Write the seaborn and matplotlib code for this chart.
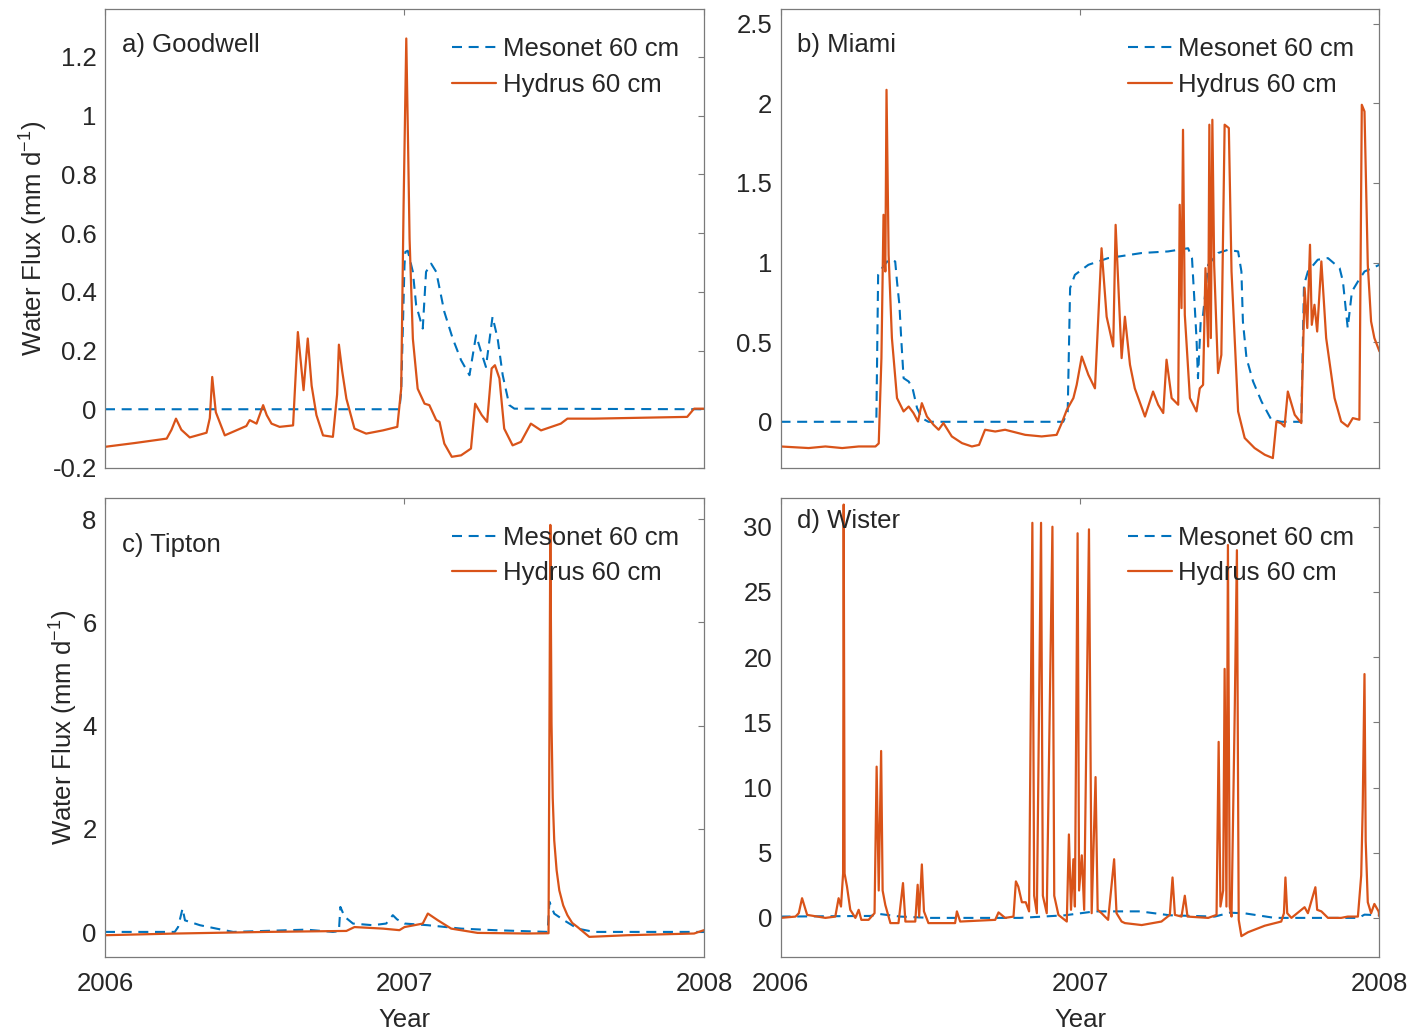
import numpy as np
import pandas as pd
import matplotlib
matplotlib.use("Agg")
import matplotlib.pyplot as plt
import seaborn as sns

# ---------------- data ----------------
series_labels = ["Mesonet 60 cm", "Hydrus 60 cm"]
panel_titles = ["a) Goodwell", "b) Miami", "c) Tipton", "d) Wister"]
x_tick_values = [2006, 2007, 2008]
x_tick_labels = ["2006", "2007", "2008"]

goodwell_mesonet_year = [2006.000, 2006.983, 2006.989, 2007.000, 2007.003, 2007.011, 2007.028, 2007.039,
                         2007.061, 2007.072, 2007.089, 2007.106, 2007.133, 2007.161, 2007.189, 2007.217,
                         2007.239, 2007.256, 2007.272, 2007.294, 2007.311, 2007.328, 2007.350, 2007.367,
                         2008.000]
goodwell_mesonet_flux = [0.0, 0.0, 0.06, 0.49, 0.536, 0.54, 0.468, 0.354,
                         0.275, 0.468, 0.496, 0.468, 0.332, 0.241, 0.167, 0.116,
                         0.252, 0.195, 0.144, 0.315, 0.241, 0.116, 0.014, 0.002,
                         0.0]

goodwell_hydrus_year = [2006.000, 2006.100, 2006.206, 2006.222, 2006.237, 2006.255, 2006.283, 2006.339,
                        2006.350, 2006.358, 2006.370, 2006.400, 2006.472, 2006.483, 2006.506, 2006.528,
                        2006.540, 2006.556, 2006.583, 2006.628, 2006.644, 2006.663, 2006.677, 2006.690,
                        2006.706, 2006.728, 2006.761, 2006.775, 2006.781, 2006.792, 2006.806, 2006.833,
                        2006.872, 2006.928, 2006.976, 2006.989, 2006.997, 2007.006, 2007.012, 2007.017,
                        2007.028, 2007.044, 2007.067, 2007.083, 2007.106, 2007.117, 2007.133, 2007.158,
                        2007.189, 2007.222, 2007.236, 2007.258, 2007.276, 2007.291, 2007.302, 2007.317,
                        2007.333, 2007.361, 2007.389, 2007.422, 2007.456, 2007.522, 2007.544, 2007.633,
                        2007.944, 2007.967, 2008.000]
goodwell_hydrus_flux = [-0.128, -0.115, -0.100, -0.070, -0.032, -0.070, -0.096, -0.080,
                        -0.030, 0.110, -0.010, -0.089, -0.057, -0.037, -0.049, 0.014,
                        -0.020, -0.049, -0.060, -0.055, 0.263, 0.065, 0.241, 0.080,
                        -0.020, -0.089, -0.094, 0.050, 0.220, 0.130, 0.036, -0.066,
                        -0.083, -0.072, -0.060, 0.070, 0.695, 1.263, 0.900, 0.580,
                        0.240, 0.070, 0.019, 0.014, -0.037, -0.043, -0.117, -0.162,
                        -0.157, -0.134, 0.019, -0.020, -0.043, 0.139, 0.150, 0.105,
                        -0.066, -0.123, -0.111, -0.049, -0.072, -0.049, -0.032, -0.032,
                        -0.026, 0.002, 0.002]

miami_mesonet_year = [2006.000, 2006.320, 2006.326, 2006.339, 2006.361, 2006.383, 2006.389, 2006.397,
                      2006.403, 2006.411, 2006.428, 2006.441, 2006.456, 2006.472, 2006.494, 2006.944,
                      2006.959, 2006.967, 2006.983, 2007.028, 2007.094, 2007.206, 2007.294, 2007.361,
                      2007.374, 2007.381, 2007.389, 2007.394, 2007.403, 2007.411, 2007.428, 2007.461,
                      2007.494, 2007.528, 2007.539, 2007.544, 2007.556, 2007.578, 2007.606, 2007.639,
                      2007.672, 2007.739, 2007.748, 2007.761, 2007.794, 2007.828, 2007.867, 2007.878,
                      2007.886, 2007.894, 2007.908, 2007.928, 2007.950, 2008.000]
miami_mesonet_flux = [0.0, 0.0, 0.923, 0.965, 1.018, 1.007, 0.881, 0.735,
                      0.526, 0.274, 0.253, 0.21, 0.086, 0.023, 0.0, 0.0,
                      0.065, 0.84, 0.923, 0.986, 1.028, 1.06, 1.07, 1.09,
                      1.028, 0.798, 0.526, 0.274, 0.63, 0.672, 0.986, 1.06,
                      1.08, 1.07, 0.944, 0.63, 0.40, 0.253, 0.128, 0.013,
                      0.0, 0.0, 0.86, 0.944, 1.018, 1.028, 0.965, 0.881,
                      0.735, 0.589, 0.818, 0.881, 0.944, 0.986]

miami_hydrus_year = [2006.000, 2006.094, 2006.150, 2006.206, 2006.261, 2006.317, 2006.328, 2006.337,
                     2006.344, 2006.350, 2006.354, 2006.361, 2006.372, 2006.389, 2006.411, 2006.428,
                     2006.444, 2006.459, 2006.472, 2006.489, 2006.511, 2006.528, 2006.544, 2006.572,
                     2006.606, 2006.639, 2006.663, 2006.683, 2006.717, 2006.750, 2006.817, 2006.872,
                     2006.922, 2006.939, 2006.956, 2006.978, 2006.989, 2007.006, 2007.028, 2007.050,
                     2007.072, 2007.089, 2007.111, 2007.119, 2007.139, 2007.150, 2007.167, 2007.183,
                     2007.217, 2007.244, 2007.261, 2007.278, 2007.289, 2007.306, 2007.328, 2007.333,
                     2007.339, 2007.344, 2007.350, 2007.367, 2007.389, 2007.400, 2007.411, 2007.419,
                     2007.428, 2007.432, 2007.437, 2007.442, 2007.448, 2007.461, 2007.472, 2007.483,
                     2007.497, 2007.506, 2007.528, 2007.550, 2007.583, 2007.617, 2007.644, 2007.656,
                     2007.672, 2007.683, 2007.694, 2007.717, 2007.739, 2007.750, 2007.759, 2007.768,
                     2007.774, 2007.783, 2007.792, 2007.806, 2007.822, 2007.850, 2007.872, 2007.894,
                     2007.911, 2007.933, 2007.941, 2007.950, 2007.961, 2007.972, 2007.983, 2008.000]
miami_hydrus_flux = [-0.155, -0.165, -0.155, -0.165, -0.155, -0.155, -0.136, 0.40,
                     1.30, 0.944, 2.085, 1.049, 0.526, 0.149, 0.065, 0.096,
                     0.055, 0.002, 0.117, 0.033, -0.019, -0.050, -0.008, -0.092,
                     -0.134, -0.155, -0.145, -0.050, -0.061, -0.050, -0.082, -0.092,
                     -0.082, -0.008, 0.075, 0.149, 0.232, 0.41, 0.295, 0.21,
                     1.09, 0.66, 0.473, 1.237, 0.40, 0.66, 0.358, 0.21,
                     0.033, 0.19, 0.107, 0.055, 0.39, 0.149, 0.107, 1.363,
                     0.714, 1.834, 0.672, 0.149, 0.065, 0.21, 0.232, 0.965,
                     0.473, 1.866, 0.526, 1.897, 0.986, 0.306, 0.42, 1.866,
                     1.845, 0.944, 0.065, -0.102, -0.165, -0.207, -0.228, 0.002,
                     -0.010, -0.030, 0.19, 0.044, -0.008, 0.84, 0.589, 1.112,
                     0.609, 0.735, 0.567, 1.007, 0.526, 0.149, 0.002, -0.030,
                     0.023, 0.013, 1.991, 1.949, 0.986, 0.63, 0.526, 0.442]

tipton_mesonet_year = [2006.000, 2006.233, 2006.244, 2006.259, 2006.267, 2006.317, 2006.372, 2006.428,
                       2006.672, 2006.761, 2006.781, 2006.786, 2006.800, 2006.828, 2006.894, 2006.939,
                       2006.961, 2006.975, 2007.000, 2007.078, 2007.189, 2007.300, 2007.478, 2007.484,
                       2007.500, 2007.533, 2007.578, 2007.633, 2008.000]
tipton_mesonet_flux = [0.006, 0.006, 0.10, 0.46, 0.23, 0.136, 0.07, 0.006,
                       0.05, 0.006, 0.02, 0.49, 0.30, 0.168, 0.136, 0.168,
                       0.33, 0.25, 0.168, 0.136, 0.07, 0.04, 0.006, 0.59,
                       0.36, 0.23, 0.07, 0.006, 0.006]

tipton_hydrus_year = [2006.000, 2006.239, 2006.539, 2006.806, 2006.833, 2006.928, 2006.983, 2007.000,
                      2007.033, 2007.061, 2007.078, 2007.111, 2007.156, 2007.244, 2007.411, 2007.481,
                      2007.487, 2007.491, 2007.495, 2007.500, 2007.508, 2007.517, 2007.530, 2007.544,
                      2007.560, 2007.578, 2007.617, 2007.744, 2007.967, 2008.000]
tipton_hydrus_flux = [-0.058, -0.025, 0.006, 0.025, 0.10, 0.07, 0.04, 0.10,
                      0.136, 0.168, 0.362, 0.233, 0.07, -0.013, -0.025, -0.02,
                      7.89, 4.04, 2.6, 1.78, 1.2, 0.81, 0.52, 0.33,
                      0.18, 0.10, -0.09, -0.058, -0.025, 0.04]

wister_mesonet_year = [2006.000, 2006.300, 2006.330, 2006.400, 2006.500, 2006.800, 2006.950, 2007.050,
                       2007.200, 2007.300, 2007.450, 2007.500, 2007.550, 2007.650, 2007.930, 2007.950,
                       2008.000]
wister_mesonet_flux = [0.1, 0.15, 0.3, 0.1, 0.0, 0.0, 0.2, 0.5,
                       0.5, 0.2, 0.1, 0.4, 0.35, 0.0, 0.0, 0.25,
                       0.2]

wister_hydrus_year = [2006.000, 2006.050, 2006.061, 2006.072, 2006.089, 2006.150, 2006.183, 2006.194,
                      2006.202, 2006.209, 2006.211, 2006.214, 2006.222, 2006.233, 2006.250, 2006.261,
                      2006.270, 2006.294, 2006.314, 2006.321, 2006.328, 2006.336, 2006.341, 2006.350,
                      2006.367, 2006.394, 2006.409, 2006.417, 2006.450, 2006.458, 2006.463, 2006.472,
                      2006.479, 2006.494, 2006.583, 2006.589, 2006.600, 2006.717, 2006.728, 2006.750,
                      2006.778, 2006.786, 2006.794, 2006.806, 2006.819, 2006.830, 2006.841, 2006.847,
                      2006.856, 2006.870, 2006.876, 2006.889, 2006.908, 2006.914, 2006.928, 2006.956,
                      2006.963, 2006.970, 2006.978, 2006.983, 2006.992, 2006.997, 2007.006, 2007.014,
                      2007.030, 2007.039, 2007.052, 2007.059, 2007.072, 2007.094, 2007.114, 2007.122,
                      2007.139, 2007.150, 2007.206, 2007.272, 2007.300, 2007.309, 2007.317, 2007.339,
                      2007.350, 2007.359, 2007.428, 2007.456, 2007.463, 2007.469, 2007.478, 2007.483,
                      2007.489, 2007.494, 2007.500, 2007.506, 2007.517, 2007.524, 2007.530, 2007.539,
                      2007.561, 2007.617, 2007.672, 2007.681, 2007.686, 2007.692, 2007.706, 2007.750,
                      2007.761, 2007.786, 2007.792, 2007.806, 2007.828, 2007.872, 2007.894, 2007.928,
                      2007.939, 2007.944, 2007.950, 2007.954, 2007.961, 2007.972, 2007.983, 2007.997,
                      2008.000]
wister_hydrus_flux = [0.0, 0.1, 0.36, 1.51, 0.23, 0.0, 0.1, 1.51,
                      0.87, 3.4, 31.7, 3.4, 2.4, 0.62, 0.0, 0.62,
                      -0.15, -0.15, 0.36, 11.6, 2.1, 12.8, 2.1, 0.99,
                      -0.4, -0.4, 2.67, -0.28, -0.28, 2.54, 0.1, 4.1,
                      0.5, -0.4, -0.4, 0.5, -0.28, -0.15, 0.42, 0.0,
                      0.1, 2.8, 2.4, 1.2, 1.2, 0.5, 30.3, 1.7,
                      0.36, 30.3, 1.7, 0.36, 30.0, 1.7, 0.23, -0.28,
                      6.4, 0.62, 4.5, 0.87, 29.5, 2.1, 4.8, 0.62,
                      29.8, 0.36, 10.8, 0.62, 0.36, -0.15, 4.5, 0.36,
                      -0.28, -0.4, -0.55, -0.28, 0.23, 3.1, 0.23, 0.1,
                      1.7, 0.1, 0.0, 0.23, 13.5, 0.87, 2.1, 19.1,
                      0.87, 28.6, 0.87, 0.1, 16.3, 28.2, -0.15, -1.4,
                      -1.1, -0.6, -0.28, 0.36, 3.1, 0.36, 0.0, 0.82,
                      0.36, 2.35, 0.62, 0.5, 0.0, 0.0, 0.1, 0.1,
                      3.25, 8.4, 18.7, 5.9, 1.2, 0.36, 1.07, 0.5,
                      0.1]

# y tick values per panel
goodwell_yticks = [-0.2, 0, 0.2, 0.4, 0.6, 0.8, 1, 1.2]
miami_yticks = [0, 0.5, 1, 1.5, 2, 2.5]
tipton_yticks = [0, 2, 4, 6, 8]
wister_yticks = [0, 5, 10, 15, 20, 25, 30]

# ---------------- style ----------------
sns.set_style("white")
plt.rcParams["font.family"] = ["Liberation Sans", "DejaVu Sans"]
plt.rcParams["mathtext.default"] = "regular"
TXT = "#262626"
SPINE = "#7a7a7a"
BLUE = "#0072BD"
ORANGE = "#D95319"
FS = 18.5

fig = plt.figure(figsize=(14.16, 10.36), dpi=100)
fig.patch.set_facecolor("white")

W = 0.423
positions = [
    [105 / 1416, 0.5483, W, 0.4426],
    [780.5 / 1416, 0.5483, W, 0.4426],
    [105 / 1416, 0.07625, W, 0.443],
    [780.5 / 1416, 0.07625, W, 0.443],
]
panels = [
    (goodwell_mesonet_year, goodwell_mesonet_flux, goodwell_hydrus_year, goodwell_hydrus_flux,
     goodwell_yticks, (-0.2, 1.362), ["-0.2", "0", "0.2", "0.4", "0.6", "0.8", "1", "1.2"], 0.923),
    (miami_mesonet_year, miami_mesonet_flux, miami_hydrus_year, miami_hydrus_flux,
     miami_yticks, (-0.29, 2.59), ["0", "0.5", "1", "1.5", "2", "2.5"], 0.923),
    (tipton_mesonet_year, tipton_mesonet_flux, tipton_hydrus_year, tipton_hydrus_flux,
     tipton_yticks, (-0.48, 8.41), ["0", "2", "4", "6", "8"], 0.898),
    (wister_mesonet_year, wister_mesonet_flux, wister_hydrus_year, wister_hydrus_flux,
     wister_yticks, (-3.0, 32.2), ["0", "5", "10", "15", "20", "25", "30"], 0.950),
]

for i, (pos, pdata) in enumerate(zip(positions, panels)):
    my, mf, hy, hf, yt, ylim, ytl, ty = pdata
    ax = fig.add_axes(pos)
    sns.lineplot(x=my, y=mf, ax=ax, color=BLUE, linewidth=1.5,
                 linestyle=(0, (4.8, 3.2)), estimator=None, sort=False,
                 label=series_labels[0])
    sns.lineplot(x=hy, y=hf, ax=ax, color=ORANGE, linewidth=1.6,
                 estimator=None, sort=False, label=series_labels[1])
    ax.set_xlim(2006, 2008)
    ax.set_ylim(*ylim)
    ax.set_xticks(x_tick_values)
    ax.set_yticks(yt)
    ax.set_yticklabels(ytl)
    if i >= 2:
        ax.set_xticklabels(x_tick_labels)
        ax.set_xlabel("Year", fontsize=FS, color=TXT)
        ax.xaxis.set_label_coords(0.5, -0.112)
    else:
        ax.set_xticklabels([])
        ax.set_xlabel("")
    if i % 2 == 0:
        ax.set_ylabel("Water Flux (mm d$^{-1}$)", fontsize=FS, color=TXT)
        ax.yaxis.set_label_coords(-0.092 if i == 0 else -0.041, 0.5)
    else:
        ax.set_ylabel("")
    ax.tick_params(axis="both", which="both", direction="in", length=4.5, width=0.8,
                   colors=SPINE, labelcolor=TXT, labelsize=FS,
                   top=True, right=True)
    ax.tick_params(axis="y", pad=6)
    ax.tick_params(axis="x", pad=11)
    for s in ax.spines.values():
        s.set_color(SPINE)
        s.set_linewidth(0.9)
        s.set_visible(True)
    ax.grid(False)
    ax.text(0.028, ty, panel_titles[i], transform=ax.transAxes, ha="left", va="center",
            fontsize=FS, color=TXT)
    handles, labels = ax.get_legend_handles_labels()
    leg = ax.legend(handles, labels, loc="upper left", bbox_to_anchor=(0.58, 0.94),
                    frameon=False, fontsize=FS, handlelength=1.7, handletextpad=0.25,
                    borderaxespad=0, borderpad=0, labelspacing=0.46)
    for t in leg.get_texts():
        t.set_color(TXT)

fig.savefig("out.png", dpi=100, facecolor="white")
